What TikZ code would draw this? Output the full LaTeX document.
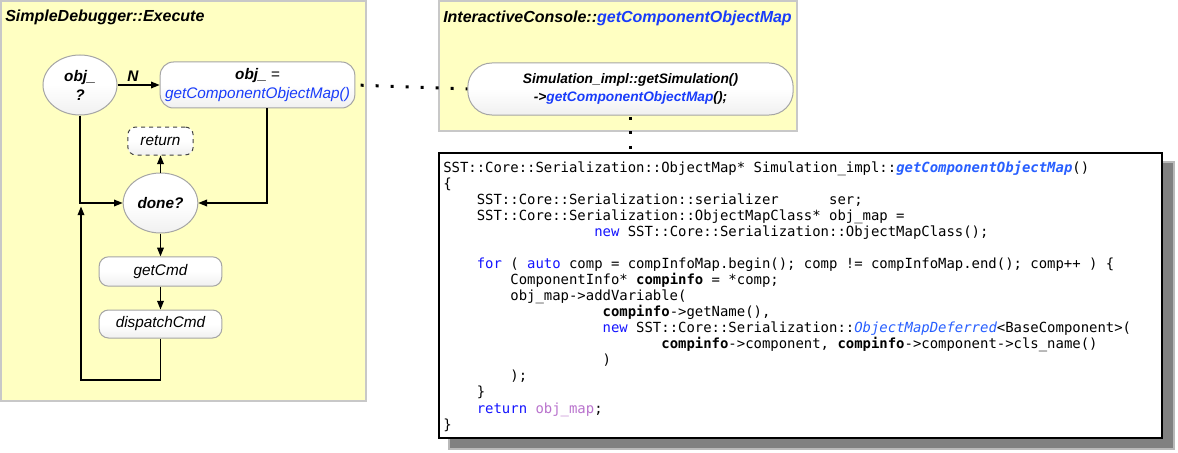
\documentclass[tikz,border=0pt]{standalone}
\usepackage{fontspec}
\setsansfont{Liberation Sans}
\newfontfamily\codefont{DejaVu Sans Mono}
\usetikzlibrary{shapes.geometric,arrows.meta}
\definecolor{panelyellow}{RGB}{255,255,194}
\definecolor{panelborder}{RGB}{200,200,200}
\definecolor{nodeborder}{RGB}{165,165,165}
\definecolor{nodeshade}{RGB}{240,240,240}
\definecolor{fnblue}{RGB}{25,60,250}
\definecolor{kwblue}{RGB}{20,20,255}
\definecolor{codeblue}{RGB}{40,95,255}
\definecolor{codepurple}{RGB}{185,115,205}
\definecolor{shadowgray}{RGB}{128,128,128}
\newlength\cw
\newcommand\ind[1]{\hspace*{#1\cw}}
\begin{document}
\settowidth{\cw}{\codefont\fontsize{10.45pt}{12pt}\selectfont M}
\begin{tikzpicture}[x=0.75pt,y=-0.75pt,
  panel/.style={draw=panelborder,fill=panelyellow,line width=1pt},
  paneltitle/.style={anchor=base west,inner sep=0,font=\sffamily\bfseries\itshape\fontsize{12pt}{14pt}\selectfont},
  decision/.style={ellipse,draw=nodeborder,top color=white,bottom color=nodeshade,middle color=white,line width=0.75pt,inner sep=0,align=center,
    font=\sffamily\bfseries\itshape\fontsize{11.5pt}{14.25pt}\selectfont},
  procbox/.style={rectangle,draw=nodeborder,top color=white,bottom color=nodeshade,middle color=white,line width=0.75pt,inner sep=0,align=center,
    font=\sffamily\itshape\fontsize{11.5pt}{14.25pt}\selectfont},
  lbl/.style={inner sep=0,font=\sffamily\bfseries\itshape\fontsize{11.5pt}{14pt}\selectfont},
  arr/.style={draw,line width=1pt,-{Triangle[length=6.5pt,width=5pt]}},
  dots/.style={draw,line width=2.25pt,dash pattern=on 2.25pt off 9pt},
  codeline/.style={anchor=base west,inner sep=0,font=\codefont\fontsize{10.45pt}{12pt}\selectfont},
]
\useasboundingbox (0,0) rectangle (1178,453);

% panels
\node[panel,minimum width=273.75pt,minimum height=300pt,inner sep=0] (leftpanel) at (183.5,201) {};
\node[panel,minimum width=268.5pt,minimum height=97.5pt,inner sep=0] (rightpanel) at (618,66) {};
\node[paneltitle] (lefttitle) at (5,22) {SimpleDebugger::Execute};
\node[paneltitle] (righttitle) at (443,23) {InteractiveConsole::{\color{fnblue}getComponentObjectMap}};

% flowchart nodes
\node[decision,minimum width=55.5pt,minimum height=45pt] (objq) at (80,85) {obj\_\\?};
\node[procbox,rounded corners=10pt,minimum width=146pt,minimum height=34.5pt] (objbox) at (257.5,85)
  {{\bfseries obj\_} =\\{\color{fnblue}getComponentObjectMap()}};
\node[procbox,dashed,draw=black!75,rounded corners=6pt,minimum width=49pt,minimum height=21pt] (ret) at (160.5,141) {return};
\node[decision,minimum width=56pt,minimum height=45pt] (done) at (160.5,203) {done?};
\node[procbox,rounded corners=7pt,minimum width=92pt,minimum height=22pt] (getcmd) at (160.5,271.5) {getCmd};
\node[procbox,rounded corners=7pt,minimum width=92pt,minimum height=21pt] (disp) at (160.5,324) {dispatchCmd};

\node[procbox,rounded corners=18pt,minimum width=244pt,minimum height=39pt,
  font=\sffamily\bfseries\itshape\fontsize{10.3pt}{14pt}\selectfont] (console) at (630.5,89)
  {Simulation\_impl::getSimulation()\\->{\color{fnblue}getComponentObjectMap}();};

% connectors
\draw[arr] (objq) -- (objbox);
\node[lbl] (nlab) at (133,76) {N};
\draw[arr] (objq.south) |- (done.west);
\draw[arr] ([xshift=7pt]objbox.south) |- (done.east);
\draw[arr] (done.north) -- (ret.south);
\draw[arr] (done.south) -- (getcmd.north);
\draw[arr] (getcmd.south) -- (disp.north);
\coordinate (loopc) at (81,380);
\coordinate (loopend) at (81,206.5);
\draw[arr] (disp.south) |- (loopc) -- (loopend);

% code box
\fill[shadowgray!55] (448,161) rectangle (1175,450);
\fill[shadowgray] (450,163) rectangle (1173,448);
\node[draw=black,fill=white,line width=0.9pt,minimum width=542.25pt,minimum height=213.75pt,inner sep=0] (code) at (800.5,295.5) {};

\draw[dots,shorten <=4pt] (objbox.east) -- (console.west);
\draw[dots,dash pattern=on 2.25pt off 8.6pt,shorten <=1pt] (console.south) -- (console.south |- code.north);

\node[codeline] (c1) at (443,172) {SST::Core::Serialization::ObjectMap* Simulation\_impl::{\bfseries\itshape\color{codeblue}getComponentObjectMap}()};
\node[codeline] (c2) at (443,{172+16.07*1}) {\{};
\node[codeline] (c3) at (443,{172+16.07*2}) {\ind{4}SST::Core::Serialization::serializer\ind{6}ser;};
\node[codeline] (c4) at (443,{172+16.07*3}) {\ind{4}SST::Core::Serialization::ObjectMapClass* obj\_map =};
\node[codeline] (c5) at (443,{172+16.07*4}) {\ind{18}{\color{kwblue}new} SST::Core::Serialization::ObjectMapClass();};
\node[codeline] (c7) at (443,{172+16.07*6}) {\ind{4}{\color{kwblue}for} ( {\color{kwblue}auto} comp = compInfoMap.begin(); comp != compInfoMap.end(); comp++ ) \{};
\node[codeline] (c8) at (443,{172+16.07*7}) {\ind{8}ComponentInfo* {\bfseries compinfo} = *comp;};
\node[codeline] (c9) at (443,{172+16.07*8}) {\ind{8}obj\_map->addVariable(};
\node[codeline] (c10) at (443,{172+16.07*9}) {\ind{19}{\bfseries compinfo}->getName(),};
\node[codeline] (c11) at (443,{172+16.07*10}) {\ind{19}{\color{kwblue}new} SST::Core::Serialization::{\itshape\color{codeblue}ObjectMapDeferred}<BaseComponent>(};
\node[codeline] (c12) at (443,{172+16.07*11}) {\ind{26}{\bfseries compinfo}->component, {\bfseries compinfo}->component->cls\_name()};
\node[codeline] (c13) at (443,{172+16.07*12}) {\ind{19})};
\node[codeline] (c14) at (443,{172+16.07*13}) {\ind{8});};
\node[codeline] (c15) at (443,{172+16.07*14}) {\ind{4}\}};
\node[codeline] (c16) at (443,{172+16.07*15}) {\ind{4}{\color{kwblue}return} {\color{codepurple}obj\_map};};
\node[codeline] (c17) at (443,{172+16.07*16}) {\}};
\end{tikzpicture}
\end{document}
